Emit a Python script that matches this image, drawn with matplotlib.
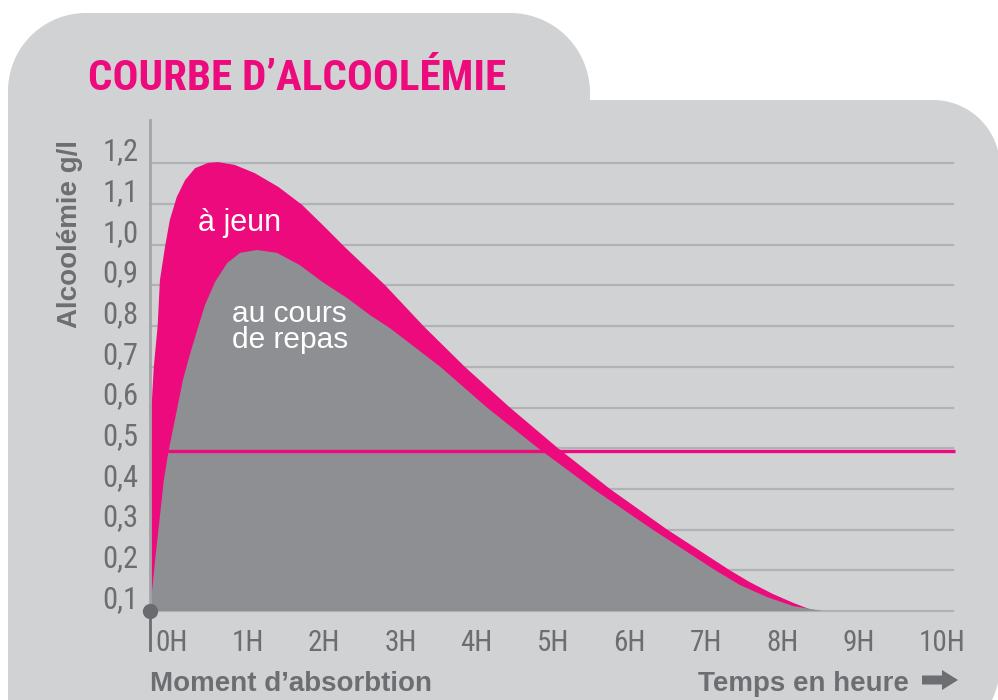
import matplotlib
matplotlib.use("Agg")
import matplotlib.pyplot as plt
import numpy as np
from matplotlib import font_manager
from matplotlib.path import Path
from matplotlib.patches import PathPatch, FancyArrow
from matplotlib.transforms import ScaledTranslation

# blood alcohol (g/l) against hours after drinking
fasting_hours = [0, 0.005, 0.01, 0.02, 0.05, 0.1, 0.13, 0.196, 0.26, 0.35, 0.46, 0.59, 0.76,
                 0.89, 1.11, 1.37, 1.68, 1.99, 2.29, 2.55, 3.08, 3.58, 4.12, 4.71, 5.34, 6.02,
                 6.77, 7.59, 7.85, 8.15, 8.42, 8.64, 8.75]
fasting_values = [0.1, 0.25, 0.4, 0.6, 0.7, 0.8, 0.913, 0.994, 1.061, 1.117, 1.159, 1.188, 1.201,
                  1.203, 1.196, 1.176, 1.142, 1.098, 1.043, 0.994, 0.9, 0.8, 0.7, 0.6, 0.5, 0.4,
                  0.3, 0.2, 0.171, 0.142, 0.12, 0.104, 0.1]

meal_hours = [0, 0.07, 0.18, 0.24, 0.43, 0.52, 0.61, 0.72, 0.85, 1.01, 1.18, 1.40, 1.66, 1.96,
              2.26, 2.58, 2.88, 3.14, 3.8, 4.41, 5.08, 5.8, 6.58, 7.4, 7.72, 8.08, 8.42, 8.81]
meal_values = [0.1, 0.23, 0.42, 0.49, 0.667, 0.729, 0.785, 0.852, 0.908, 0.955, 0.98, 0.987, 0.98,
               0.95, 0.908, 0.869, 0.827, 0.795, 0.7, 0.6, 0.5, 0.4, 0.3, 0.2, 0.164, 0.134,
               0.112, 0.1]

limit_value = 0.493

y_ticks = [0.1, 0.2, 0.3, 0.4, 0.5, 0.6, 0.7, 0.8, 0.9, 1.0, 1.1, 1.2]
y_labels = ["0,1", "0,2", "0,3", "0,4", "0,5", "0,6", "0,7", "0,8", "0,9", "1,0", "1,1", "1,2"]
x_ticks = [0, 1, 2, 3, 4, 5, 6, 7, 8, 9, 10]
x_labels = ["0H", "1H", "2H", "3H", "4H", "5H", "6H", "7H", "8H", "9H", "10H"]

PINK = "#ec0a7d"
PANEL = "#d1d2d4"
FILL_GREY = "#8e8f92"
GRID = "#b1b2b5"
TEXT = "#6d6e71"

W, H = 998, 700
fig = plt.figure(figsize=(W / 100, H / 100), dpi=100)
fig.patch.set_facecolor("white")

available = {f.name for f in font_manager.fontManager.ttflist}


def pick(*names):
    for n in names:
        if n in available:
            return n
    return "DejaVu Sans"


NARROW = pick("Liberation Sans Narrow", "Roboto Condensed", "DejaVu Sans")
SANS = pick("Liberation Sans", "Arial", "DejaVu Sans")

# background panel with the title tab, in pixel coordinates
bg = fig.add_axes([0, 0, 1, 1], zorder=0)
bg.set_xlim(0, W)
bg.set_ylim(H, 0)
bg.axis("off")


def arc(cx, cy, r, a0, a1, n=40):
    t = np.radians(np.linspace(a0, a1, n))
    return list(zip(cx + r * np.cos(t), cy - r * np.sin(t)))


left, tab_top, tab_right, body_top, right, bottom = 8, 13, 590, 100, 1000, 745
r1, r2, r3, r4 = 78, 80, 67, 80
pts = [(left, bottom + 20)]
pts += arc(left + r1, tab_top + r1, r1, 180, 90)
pts += arc(tab_right - r2, tab_top + r2, r2, 90, 0)
pts += [(tab_right, body_top)]
pts += arc(right - r3, body_top + r3, r3, 90, 0)
pts += arc(right - r4, bottom - r4, r4, 0, -90)
pts += [(left, bottom + 20)]
bg.add_patch(PathPatch(Path(pts, closed=True), facecolor=PANEL, edgecolor="none"))

# chart
ax = fig.add_axes([150 / W, 1 - 611 / H, 803 / W, 491 / H], zorder=1)
ax.set_facecolor("none")
ax.set_xlim(0, 803 / 76.4)
ax.set_ylim(0.1, 0.1 + 491 / 407.0)
for s in ax.spines.values():
    s.set_visible(False)

for v in y_ticks:
    ax.axhline(v, color=GRID, lw=1.6, zorder=1, clip_on=False)

ax.fill(fasting_hours, fasting_values, color=PINK, lw=0, zorder=2)
ax.fill(meal_hours, meal_values, color=FILL_GREY, lw=0, zorder=3)
ax.plot([0, 10.54], [limit_value, limit_value], color=PINK, lw=2.4, zorder=4,
        solid_capstyle="butt", clip_on=False)

ax.plot([0, 0], [0.1, 1.306], color="#a3a4a7", lw=2, zorder=5, clip_on=False)
ax.plot([0, 0], [0.004, 0.1], color="#6d6e71", lw=2, zorder=5, clip_on=False)
ax.plot([0], [0.1], "o", ms=10, color="#6a6b6e", zorder=6, clip_on=False)

ax.text(0.63, 1.034, "à jeun", color="white", fontsize=22, family=SANS, zorder=7)
ax.text(1.07, 0.81, "au cours", color="white", fontsize=21.5, family=SANS, zorder=7)
ax.text(1.07, 0.746, "de repas", color="white", fontsize=21.5, family=SANS, zorder=7)

ax.set_xticks(x_ticks, x_labels)
ax.set_yticks(y_ticks, y_labels)
ax.tick_params(length=0, colors=TEXT)
ax.tick_params(axis="x", pad=13)
ax.tick_params(axis="y", pad=8.5)
for lbl in ax.get_xticklabels():
    lbl.set_fontfamily(NARROW)
    lbl.set_fontsize(21)
    lbl.set_horizontalalignment("left")
    lbl.set_transform(lbl.get_transform() + ScaledTranslation(0.05, 0, fig.dpi_scale_trans))
for lbl in ax.get_yticklabels():
    lbl.set_fontfamily(NARROW)
    lbl.set_fontsize(22)
    lbl.set_verticalalignment("baseline")
    lbl.set_transform(lbl.get_transform() + ScaledTranslation(0, 0.03, fig.dpi_scale_trans))

# texts around the chart
bg.text(88, 90, "COURBE D’ALCOOLÉMIE", family=NARROW, weight="bold", fontsize=31,
        color=PINK, va="baseline")
bg.text(70, 234, "Alcoolémie g/l", family=SANS, weight="bold", fontsize=20,
        color=TEXT, rotation=90, ha="center", va="center")
bg.text(150, 691, "Moment d’absorbtion", family=SANS, weight="bold", fontsize=20,
        color=TEXT, va="baseline")
bg.text(698, 691, "Temps en heure", family=SANS, weight="bold", fontsize=20,
        color=TEXT, va="baseline")
bg.add_patch(FancyArrow(922, 680, 36, 0, width=9, head_width=20, head_length=16,
                        length_includes_head=True, color=TEXT, lw=0))

fig.savefig("out.png", dpi=100)
